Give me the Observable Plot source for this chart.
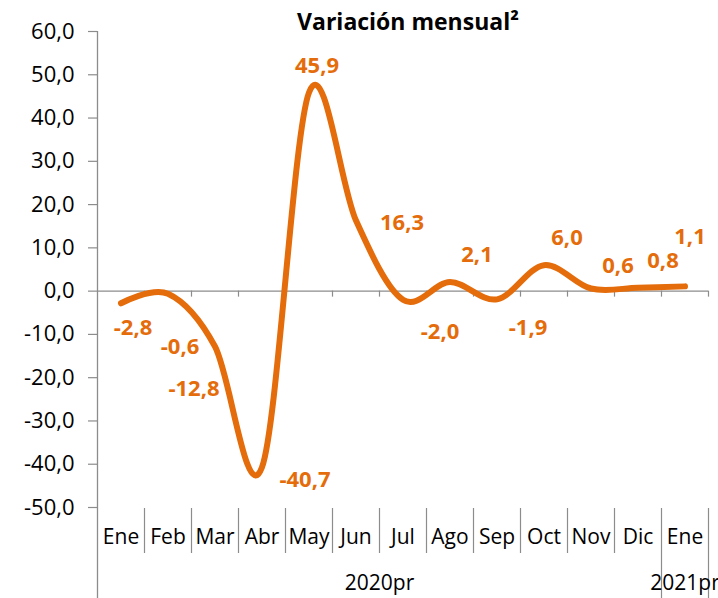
<!DOCTYPE html>
<html>
<head>
<meta charset="utf-8">
<script src="https://cdn.jsdelivr.net/npm/d3@7"></script>
<script src="https://cdn.jsdelivr.net/npm/@observablehq/plot@0.6"></script>
<style>
  html, body { margin: 0; padding: 0; background: #fff; }
  #wrap { position: relative; width: 718px; height: 598px; overflow: hidden; font-family: "Open Sans", sans-serif; }
  #title { position: absolute; top: 10px; left: 408px; transform: translateX(-50%); font-size: 23px; font-weight: bold; line-height: 1; white-space: nowrap; color: #000; }
  #chart svg { display: block; }
</style>
</head>
<body>
<div id="wrap">
  <div id="chart"></div>
  <div id="title">Variación mensual²</div>
</div>
<script>
// ---- data ----
const months = ["Ene","Feb","Mar","Abr","May","Jun","Jul","Ago","Sep","Oct","Nov","Dic","Ene"];
const values = [-2.8, -0.6, -12.8, -40.7, 45.9, 16.3, -2.0, 2.1, -1.9, 6.0, 0.6, 0.8, 1.1];
const years = ["2020pr", "2021pr"];
const yearMonthCounts = [12, 1];
const yTicks = [-50, -40, -30, -20, -10, 0, 10, 20, 30, 40, 50, 60];

// label nudges (layout, pixels) relative to each point
const labelNudge = [
  [12, 25], [12, 53], [-21, 42], [43, 13], [8, -27], [46, 2], [37, 32],
  [27, -27], [31, 29], [23, -27], [27, -23], [25, -27], [5, -49]
];

const orange = "#E46C0A";
const gray = "#8C8C8C";
const fmt = v => v.toFixed(1).replace(".", ",");

const idx = months.map((m, i) => i);
const centers = idx.map(i => i + 0.5);
const bounds = d3.range(1, months.length + 1);
const yearBounds = d3.cumsum(yearMonthCounts);
const innerBounds = bounds.filter(b => !yearBounds.includes(b));
let acc = 0;
const yearCenters = yearMonthCounts.map(c => { const m = acc + c / 2; acc += c; return m; });

const labelMarks = values.map((v, i) =>
  Plot.text([v], {
    x: () => i + 0.5, y: d => d, text: d => fmt(d),
    dx: labelNudge[i][0], dy: labelNudge[i][1],
    fill: orange, fontWeight: "bold", fontSize: 22,
    textAnchor: "middle", lineAnchor: "middle"
  })
);

const chart = Plot.plot({
  width: 718,
  height: 598,
  marginLeft: 97,
  marginRight: 10,
  marginTop: 31,
  marginBottom: 91,
  style: { fontFamily: "Open Sans, sans-serif", background: "white", overflow: "hidden" },
  x: { type: "linear", domain: [0, months.length] },
  y: { domain: [-50, 60] },
  marks: [
    Plot.axisY({
      ticks: yTicks, tickFormat: fmt, tickSize: 9, tickPadding: 14,
      fontSize: 22, stroke: gray, fill: "black", strokeWidth: 1.2
    }),
    Plot.axisX({
      ticks: centers, tickFormat: d => months[Math.floor(d)], tickSize: 0,
      tickPadding: 22, fontSize: 21, fill: "black"
    }),
    Plot.ruleX([0], { stroke: gray, strokeWidth: 1.3, insetBottom: -91 }),
    Plot.ruleY([0], { stroke: gray, strokeWidth: 1.3 }),
    Plot.ruleX(bounds, { x: d => d, y1: () => 0, y2: () => 0, insetBottom: -6, stroke: gray, strokeWidth: 1.2 }),
    Plot.ruleX(innerBounds, { x: d => d, insetTop: 477, insetBottom: -46, stroke: gray, strokeWidth: 1.2 }),
    Plot.ruleX(yearBounds, { x: d => d, insetTop: 477, insetBottom: -91, stroke: gray, strokeWidth: 1.2 }),
    Plot.line(values, {
      x: (d, i) => i + 0.5, y: d => d,
      curve: "cardinal", tension: 0,
      stroke: orange, strokeWidth: 6, strokeLinecap: "round", strokeLinejoin: "round"
    }),
    ...labelMarks,
    Plot.text(years, {
      x: (d, i) => yearCenters[i], frameAnchor: "bottom", dy: 76,
      text: d => d, fontSize: 21, fill: "black", textAnchor: "middle", lineAnchor: "middle"
    })
  ]
});
document.getElementById("chart").appendChild(chart);
</script>
</body>
</html>
